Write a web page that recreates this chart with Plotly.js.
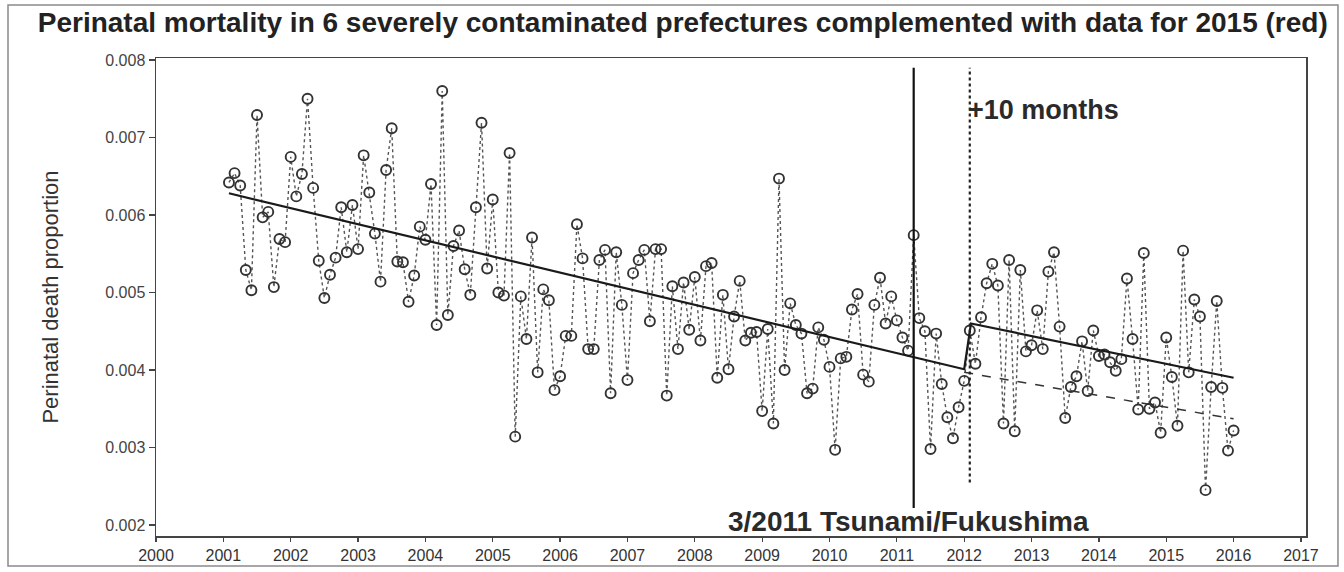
<!DOCTYPE html>
<html>
<head>
<meta charset="utf-8">
<script src="https://cdn.plot.ly/plotly-3.0.1.min.js"></script>
<style>
  html, body { margin: 0; padding: 0; background: #ffffff; }
  #chart { width: 1344px; height: 572px; }
</style>
</head>
<body>
<div id="chart"></div>
<script>
// ---- Data (monthly perinatal death proportion, Jan 2001 - Dec 2015) ----
const firstYear = 2001;
const rate2001 = [0.00642, 0.00654, 0.00638, 0.00529, 0.00503, 0.00729, 0.00597, 0.00604, 0.00507, 0.00569, 0.00565, 0.00675];
const rate2002 = [0.00624, 0.00653, 0.00750, 0.00635, 0.00541, 0.00493, 0.00523, 0.00545, 0.00610, 0.00552, 0.00613, 0.00556];
const rate2003 = [0.00677, 0.00629, 0.00576, 0.00514, 0.00658, 0.00712, 0.00540, 0.00539, 0.00488, 0.00522, 0.00585, 0.00568];
const rate2004 = [0.00640, 0.00458, 0.00760, 0.00471, 0.00560, 0.00580, 0.00530, 0.00497, 0.00610, 0.00719, 0.00531, 0.00620];
const rate2005 = [0.00500, 0.00496, 0.00680, 0.00314, 0.00495, 0.00440, 0.00571, 0.00397, 0.00504, 0.00490, 0.00374, 0.00392];
const rate2006 = [0.00444, 0.00444, 0.00588, 0.00544, 0.00427, 0.00427, 0.00542, 0.00555, 0.00370, 0.00552, 0.00484, 0.00387];
const rate2007 = [0.00525, 0.00542, 0.00555, 0.00463, 0.00556, 0.00556, 0.00367, 0.00508, 0.00427, 0.00513, 0.00452, 0.00520];
const rate2008 = [0.00438, 0.00534, 0.00538, 0.00390, 0.00497, 0.00401, 0.00469, 0.00515, 0.00438, 0.00448, 0.00449, 0.00347];
const rate2009 = [0.00453, 0.00331, 0.00647, 0.00400, 0.00486, 0.00458, 0.00447, 0.00370, 0.00376, 0.00455, 0.00439, 0.00404];
const rate2010 = [0.00297, 0.00415, 0.00417, 0.00478, 0.00498, 0.00394, 0.00385, 0.00484, 0.00519, 0.00460, 0.00495, 0.00464];
const rate2011 = [0.00442, 0.00425, 0.00574, 0.00467, 0.00450, 0.00298, 0.00447, 0.00382, 0.00339, 0.00312, 0.00352, 0.00386];
const rate2012 = [0.00451, 0.00408, 0.00468, 0.00512, 0.00537, 0.00509, 0.00331, 0.00542, 0.00321, 0.00529, 0.00424, 0.00432];
const rate2013 = [0.00477, 0.00427, 0.00527, 0.00552, 0.00456, 0.00338, 0.00378, 0.00392, 0.00437, 0.00373, 0.00451, 0.00418];
const rate2014 = [0.00420, 0.00410, 0.00399, 0.00414, 0.00518, 0.00440, 0.00349, 0.00551, 0.00350, 0.00358, 0.00319, 0.00442];
const rate2015 = [0.00391, 0.00328, 0.00554, 0.00397, 0.00491, 0.00469, 0.00245, 0.00378, 0.00489, 0.00377, 0.00296, 0.00322];

// Fitted trend (solid) with level shift 10 months after 3/2011
const trendX = [2001.083, 2012.0, 2012.1, 2016.0];
const trendY = [0.00628, 0.00401, 0.00460, 0.00390];
// Pre-event trend continued (dashed)
const extrapX = [2012.0, 2016.0];
const extrapY = [0.00397, 0.00337];

// Reference lines
const tsunamiX = 2011.25;
const tsunamiY = [0.00222, 0.00790];
const lagX = 2012.083;
const lagY = [0.00255, 0.00790];

// Axis ticks
const xTickYears = [2000, 2001, 2002, 2003, 2004, 2005, 2006, 2007, 2008, 2009, 2010, 2011, 2012, 2013, 2014, 2015, 2016, 2017];
const yTickVals = [0.002, 0.003, 0.004, 0.005, 0.006, 0.007, 0.008];
const yTickText = ['0.002', '0.003', '0.004', '0.005', '0.006', '0.007', '0.008'];

// Texts
const chartTitle = 'Perinatal mortality in 6 severely contaminated prefectures complemented with data for 2015 (red)';
const yTitle = 'Perinatal death proportion';
const eventLabel = '3/2011 Tsunami/Fukushima';
const lagLabel = '+10 months';

// ---- Build monthly series ----
const yearly = [rate2001, rate2002, rate2003, rate2004, rate2005, rate2006, rate2007, rate2008,
                rate2009, rate2010, rate2011, rate2012, rate2013, rate2014, rate2015];
const xs = [], ys = [];
yearly.forEach((arr, i) => {
  arr.forEach((v, m) => {
    xs.push(firstYear + i + (m + 1) / 12);
    ys.push(v);
  });
});

const font = 'Liberation Sans, Arial, Helvetica, sans-serif';

const traces = [
  {
    x: xs, y: ys, type: 'scatter', mode: 'lines+markers',
    line: { color: '#555555', width: 1.4, dash: 'dot' },
    marker: { symbol: 'circle-open', size: 10, color: '#333333', line: { width: 1.9, color: '#333333' } },
    hoverinfo: 'x+y', showlegend: false
  },
  {
    x: trendX, y: trendY, type: 'scatter', mode: 'lines',
    line: { color: '#1a1a1a', width: 2.2 }, showlegend: false
  },
  {
    x: extrapX, y: extrapY, type: 'scatter', mode: 'lines',
    line: { color: '#333333', width: 1.5, dash: 'dash' }, showlegend: false
  }
];

const layout = {
  width: 1344, height: 572,
  margin: { l: 156, r: 38, t: 58, b: 36 },
  paper_bgcolor: '#ffffff', plot_bgcolor: '#ffffff',
  font: { family: font, color: '#333' },
  title: {
    text: '<b>' + chartTitle + '</b>',
    font: { family: font, size: 28, color: '#222' },
    x: 0.508, xref: 'container', xanchor: 'center',
    y: 0.962, yref: 'container', yanchor: 'middle'
  },
  xaxis: {
    range: [2000, 2017.075], tickvals: xTickYears, ticktext: xTickYears.map(String),
    ticks: 'outside', ticklen: 4, tickwidth: 1.2, tickcolor: '#444',
    showline: true, linecolor: '#444', linewidth: 1.5, mirror: true,
    showgrid: false, zeroline: false,
    tickfont: { family: font, size: 16, color: '#333' }
  },
  yaxis: {
    range: [0.0018581, 0.0080258], tickvals: yTickVals, ticktext: yTickText,
    ticks: 'outside', ticklen: 6, tickwidth: 1.2, tickcolor: '#444',
    showline: true, linecolor: '#444', linewidth: 1.5, mirror: true,
    showgrid: false, zeroline: false,
    tickfont: { family: font, size: 16, color: '#444' },
    title: { text: yTitle, font: { family: font, size: 22, color: '#333' }, standoff: 40 }
  },
  shapes: [
    { type: 'line', xref: 'x', yref: 'y', x0: tsunamiX, x1: tsunamiX, y0: tsunamiY[0], y1: tsunamiY[1],
      line: { color: '#111', width: 2.2 } },
    { type: 'line', xref: 'x', yref: 'y', x0: lagX, x1: lagX, y0: lagY[0], y1: lagY[1],
      line: { color: '#222', width: 2.2, dash: 'dot' } },
    { type: 'rect', xref: 'paper', yref: 'paper', x0: -0.1287, x1: 1.0278, y0: -0.0628, y1: 1.1109,
      line: { color: '#8a8a8a', width: 1.5 }, fillcolor: 'rgba(0,0,0,0)', layer: 'below' }
  ],
  annotations: [
    { xref: 'x', yref: 'y', x: 2011.17, y: 0.00205, text: '<b>' + eventLabel + '</b>', showarrow: false,
      xanchor: 'center', yanchor: 'middle', font: { family: font, size: 28, color: '#2a2a2a' } },
    { xref: 'x', yref: 'y', x: lagX, y: 0.00736, text: '<b>' + lagLabel + '</b>', showarrow: false,
      xanchor: 'left', yanchor: 'middle', xshift: -4, font: { family: font, size: 27, color: '#2a2a2a' } }
  ]
};

Plotly.newPlot('chart', traces, layout, { staticPlot: true, displayModeBar: false });
</script>
</body>
</html>
